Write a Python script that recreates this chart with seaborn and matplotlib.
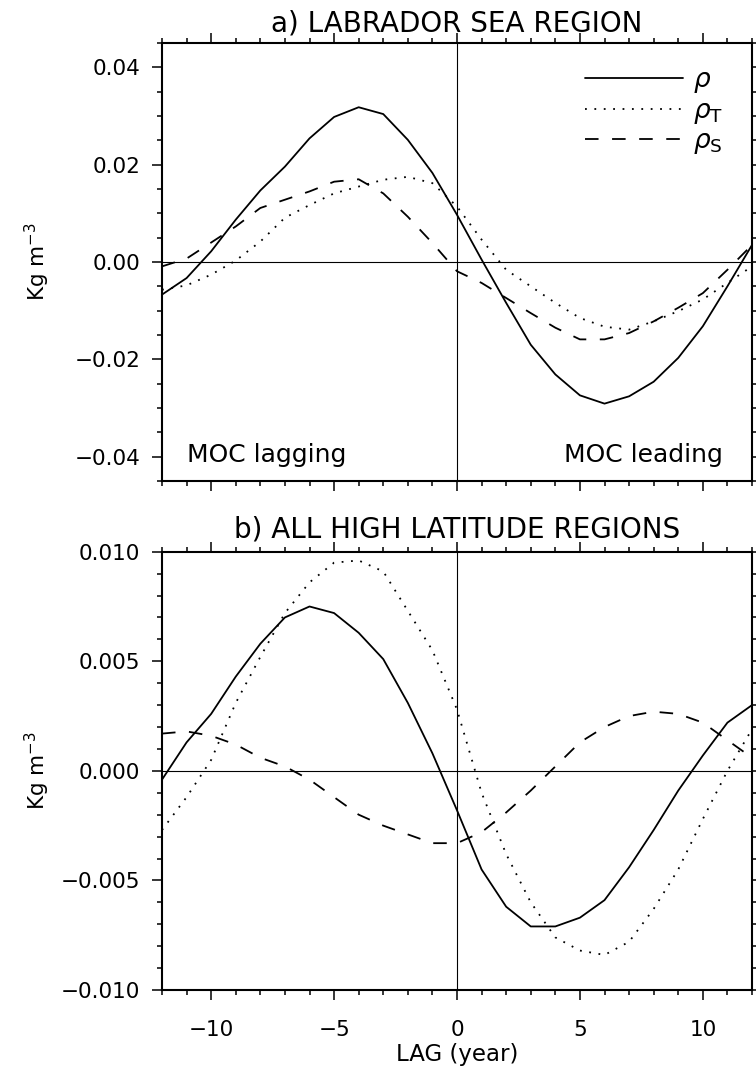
import numpy as np
import pandas as pd
import matplotlib
matplotlib.use("Agg")
import matplotlib.pyplot as plt
from matplotlib.ticker import MultipleLocator, FuncFormatter
import seaborn as sns

# ---------------- data ----------------
lags = list(range(-12, 13))

# a) Labrador Sea region
lab_rho = [-0.0067, -0.0033, 0.0022, 0.0087, 0.0147, 0.0196, 0.0254, 0.0298, 0.0318,
           0.0304, 0.0251, 0.0183, 0.0097, 0.0005, -0.0084, -0.0170, -0.0231, -0.0274,
           -0.0291, -0.0276, -0.0246, -0.0197, -0.0132, -0.0050, 0.0035]
lab_rhoT = [-0.0057, -0.0048, -0.0026, 0.0003, 0.0042, 0.0091, 0.0117, 0.0141, 0.0155,
            0.0169, 0.0175, 0.0162, 0.0114, 0.0046, -0.0016, -0.0050, -0.0084, -0.0115,
            -0.0133, -0.0139, -0.0122, -0.0101, -0.0077, -0.0043, -0.0009]
lab_rhoS = [-0.0009, 0.0007, 0.0040, 0.0073, 0.0111, 0.0128, 0.0145, 0.0165, 0.0170,
            0.0141, 0.0093, 0.0039, -0.0019, -0.0043, -0.0074, -0.0105, -0.0135, -0.0159,
            -0.0159, -0.0146, -0.0122, -0.0094, -0.0064, -0.0016, 0.0035]

# b) All high latitude regions
hl_rho = [-0.0004, 0.0013, 0.0026, 0.0043, 0.0058, 0.0070, 0.0075, 0.0072, 0.0063,
          0.0051, 0.0031, 0.0008, -0.0018, -0.0045, -0.0062, -0.0071, -0.0071, -0.0067,
          -0.0059, -0.0044, -0.0027, -0.0009, 0.0007, 0.0022, 0.0030]
hl_rhoT = [-0.0027, -0.0012, 0.0005, 0.0031, 0.0052, 0.0072, 0.0086, 0.0095, 0.0096,
           0.0091, 0.0073, 0.0055, 0.0028, -0.0010, -0.0038, -0.0060, -0.0076, -0.0082,
           -0.0084, -0.0078, -0.0063, -0.0045, -0.0022, 0.0000, 0.0019]
hl_rhoS = [0.0017, 0.0018, 0.0016, 0.0012, 0.0006, 0.0002, -0.0004, -0.0012, -0.0020,
           -0.0025, -0.0029, -0.0033, -0.0033, -0.0028, -0.0019, -0.0009, 0.0002, 0.0013,
           0.0020, 0.0025, 0.0027, 0.0026, 0.0022, 0.0014, 0.0006]

series_labels = [r"$\rho$", r"$\rho_{\mathrm{T}}$", r"$\rho_{\mathrm{S}}$"]
titles = ["a) LABRADOR SEA REGION", "b) ALL HIGH LATITUDE REGIONS"]
ylabel = r"Kg m$^{-3}$"
xlabel = "LAG (year)"

# ---------------- style ----------------
sns.set_theme(style="ticks")
plt.rcParams["font.family"] = ["DejaVu Sans"]
plt.rcParams["mathtext.fontset"] = "dejavusans"
plt.rcParams["axes.unicode_minus"] = True
for k in ["text.color", "axes.labelcolor", "xtick.color", "ytick.color",
          "axes.edgecolor"]:
    plt.rcParams[k] = "black"

LW = 1.3
styles = ["-", (0, (1.0, 4.2)), (0, (7.5, 7.5))]

fig = plt.figure(figsize=(7.56, 10.76), dpi=100)
ax1 = fig.add_axes([162 / 756, 1 - 481 / 1076, 590 / 756, 438 / 1076])
ax2 = fig.add_axes([162 / 756, 1 - 990 / 1076, 590 / 756, 438.3 / 1076])

def minus_fmt(fmt):
    return FuncFormatter(lambda v, p: (fmt % v).replace("-", "\u2212"))

panels = [
    (ax1, [lab_rho, lab_rhoT, lab_rhoS], (-0.045, 0.045), 0.02, 0.005, "%.2f"),
    (ax2, [hl_rho, hl_rhoT, hl_rhoS], (-0.010, 0.010), 0.005, 0.001, "%.3f"),
]

for i, (ax, vals, ylim, ymaj, ymin, fmt) in enumerate(panels):
    for v, ls, lab in zip(vals, styles, series_labels):
        df = pd.DataFrame({"lag": lags, "value": v})
        sns.lineplot(data=df, x="lag", y="value", ax=ax, color="black", lw=LW,
                     linestyle=ls, label=lab, estimator=None, sort=False,
                     legend=False)
    ax.axhline(0, color="black", lw=0.8, zorder=1)
    ax.axvline(0, color="black", lw=0.8, zorder=1)
    ax.set_xlim(-12, 12)
    ax.set_ylim(*ylim)
    ax.xaxis.set_major_locator(MultipleLocator(5))
    ax.xaxis.set_minor_locator(MultipleLocator(1))
    ax.yaxis.set_major_locator(MultipleLocator(ymaj))
    ax.yaxis.set_minor_locator(MultipleLocator(ymin))
    ax.yaxis.set_major_formatter(minus_fmt(fmt))
    ax.tick_params(which="both", direction="out", top=True, right=True,
                   width=1.1, color="black", labelcolor="black")
    ax.tick_params(which="major", length=7.5)
    ax.tick_params(which="minor", length=3.8)
    ax.tick_params(axis="y", which="major", labelsize=15.5, pad=8)
    ax.tick_params(axis="x", which="major", labelsize=15.5, pad=14)
    for s in ax.spines.values():
        s.set_visible(True)
        s.set_linewidth(1.5)
        s.set_color("black")
    ax.set_ylabel(ylabel, fontsize=15.5)
    ax.yaxis.set_label_coords(-0.186, 0.5)
    ax.set_xlabel("")
    ax.set_title(titles[i], fontsize=20, pad=8 if i == 0 else 10)
    ax.set_facecolor("white")

ax1.tick_params(axis="x", labelbottom=False)
ax2.set_xlabel(xlabel, fontsize=16.5, labelpad=2)

ax1.text(0.043, 0.043, "MOC lagging", transform=ax1.transAxes, fontsize=18,
         ha="left", va="baseline")
ax1.text(0.95, 0.043, "MOC leading", transform=ax1.transAxes, fontsize=18,
         ha="right", va="baseline")

handles = ax1.get_lines()[:3]
ax1.legend(handles, series_labels, loc="upper left",
           bbox_to_anchor=(0.695, 0.975), frameon=False, fontsize=19,
           handlelength=3.7, handletextpad=0.4, labelspacing=0.1,
           borderpad=0.0)

fig.savefig("out.png", dpi=100, facecolor="white")
